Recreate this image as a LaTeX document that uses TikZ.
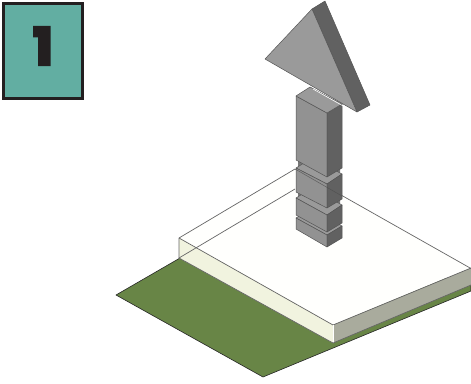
\documentclass[tikz,border=0pt]{standalone}
\usepackage{fontspec}
\newfontfamily\heavyfont[FakeBold=7]{Poppins Bold}
\definecolor{teal}{HTML}{62AEA2}
\definecolor{badgeink}{HTML}{231F20}
\definecolor{grass}{HTML}{688546}
\definecolor{slabtop}{HTML}{FFFFFD}
\definecolor{slableft}{HTML}{F1F3DF}
\definecolor{slabright}{HTML}{A9AB9D}
\definecolor{faceL}{HTML}{929292}
\definecolor{faceR}{HTML}{616161}
\definecolor{faceT}{HTML}{9A9A9A}
\definecolor{edgeC}{HTML}{555555}
\definecolor{neck}{HTML}{777777}
\tikzset{
  slabedge/.style={draw=black!60,line width=0.7pt,line join=round},
  solidL/.style={fill=faceL,draw=edgeC,line width=0.5pt,line join=round},
  solidR/.style={fill=faceR,draw=edgeC,line width=0.5pt,line join=round},
  solidT/.style={fill=faceT,draw=edgeC,line width=0.5pt,line join=round},
  seethrough/.style={draw=black!70,line width=0.5pt,opacity=.75},
  badge/.style={fill=teal,draw=badgeink,line width=3pt}
}
\begin{document}
\begin{tikzpicture}[x=1pt,y=-1pt]
\useasboundingbox (0,0) rectangle (471,383);
% badge
\draw[badge] (3.5,3.5) rectangle (82.5,98);
\node[text=badgeink,inner sep=0pt,font=\heavyfont\fontsize{50}{50}\selectfont] (num) at (43,46) {1};
% ground
\fill[grass,draw=black!85,line width=0.6pt,line join=round] (116,295) -- (180,258) -- (471,280) -- (471,291) -- (263,377) -- cycle;
% slab
\fill[slabtop] (179,238) -- (295,169) -- (470,268) -- (333,325) -- cycle;
\fill[slableft] (179,238) -- (333,325) -- (333,343) -- (179,258) -- cycle;
\fill[slabright] (333,325) -- (471,268) -- (471,285) -- (333,343) -- cycle;
\draw[slabedge] (179,258) -- (179,238) -- (295,169) -- (471,268.5);
\draw[slabedge] (179,258) -- (295,189);
\draw[slabedge] (179,238) -- (333,325) -- (471,268);
\draw[slabedge,draw=white] (333,325) -- (333,343);
\draw[slabedge] (179,258) -- (333,343) -- (471,285);
% column core seen in the grooves
\fill[neck] (298,150) -- (340,150) -- (340,232) -- (327,240) -- (298,222) -- cycle;
% bottom block
\fill[solidT] (296,218) -- (312,208) -- (342,226) -- (327,235) -- cycle;
\fill[solidL] (296,218) -- (327,235) -- (327,247) -- (296,229) -- cycle;
\fill[solidR] (327,235) -- (342,226) -- (342,238) -- (327,247) -- cycle;
% block 3
\fill[solidT] (296,198) -- (312,188) -- (342,205) -- (327,215) -- cycle;
\fill[solidL] (296,198) -- (327,215) -- (327,232) -- (296,215) -- cycle;
\fill[solidR] (327,215) -- (342,205) -- (342,223) -- (327,232) -- cycle;
% block 2
\fill[solidT] (296,168) -- (312,158) -- (342,174) -- (327,184) -- cycle;
\fill[solidL] (296,168) -- (327,184) -- (327,208) -- (296,192) -- cycle;
\fill[solidR] (327,184) -- (342,174) -- (342,199) -- (327,208) -- cycle;
% see-through slab edge over the column
\draw[seethrough] (296,169.5) -- (342,196);
% top block
\fill[solidL] (296,96) -- (327,113) -- (327,177) -- (296,160) -- cycle;
\fill[solidR] (327,113) -- (342,104) -- (342,168) -- (327,177) -- cycle;
\fill[solidT] (296,96) -- (310,87) -- (342,104) -- (327,113) -- cycle;
% arrow head
\fill[solidR] (312,9) -- (325,1) -- (370,105) -- (357,112) -- cycle;
\fill[solidL,fill=faceT] (265,59) -- (312,9) -- (357,112) -- cycle;
\draw[white,line width=0.6pt] (313,89) -- (345,107);
\end{tikzpicture}
\end{document}
